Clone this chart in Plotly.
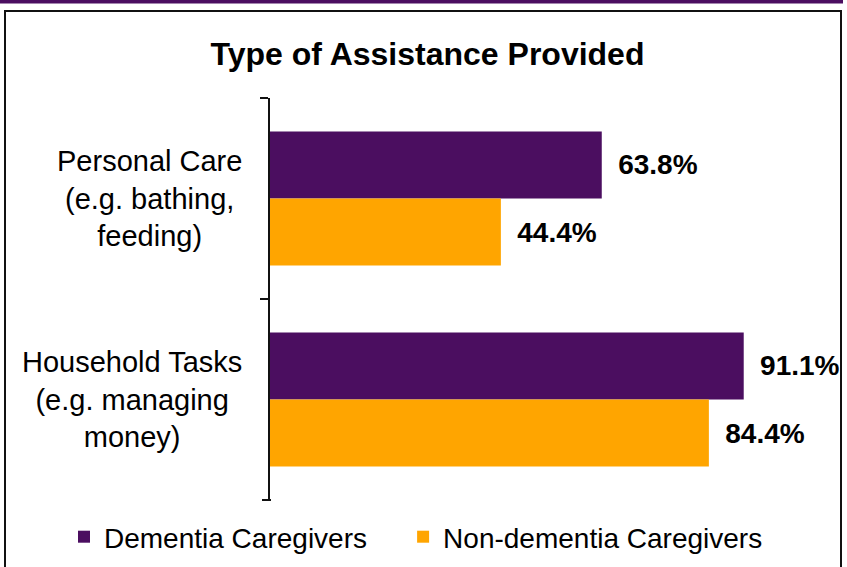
import plotly.graph_objects as go

categories = ["Personal Care<br>(e.g. bathing,<br>feeding)",
              "Household Tasks<br>(e.g. managing<br>money)"]
category_keys = ["Personal Care", "Household Tasks"]
series_names = ["Dementia Caregivers", "Non-dementia Caregivers"]
dementia = [63.8, 91.1]
non_dementia = [44.4, 84.4]
colors = ["#4B0E60", "#FFA500"]
title_text = "Type of Assistance Provided"

FONT = "Liberation Sans, Arial, sans-serif"
pad = "\u00a0\u2009"
legend_pad = ["\u00a0" * 4, ""]

fig = go.Figure()
for name, vals, col, lp in zip(series_names, [dementia, non_dementia], colors, legend_pad):
    fig.add_trace(go.Bar(
        name=name + lp, y=category_keys, x=vals, orientation="h",
        marker=dict(color=col, line=dict(width=0)),
        text=[pad + f"{v:.1f}%" for v in vals],
        textposition="outside", cliponaxis=False,
        textfont=dict(family=FONT, size=28, color="black", weight="bold"),
    ))

for key, label in zip(category_keys, categories):
    fig.add_annotation(text=label, xref="paper", x=0, xanchor="right", xshift=-26,
                       yref="y", y=key, yanchor="middle", align="center",
                       showarrow=False, font=dict(family=FONT, size=29, color="black"))

W, H = 847, 567
L, R, T, B = 270, 57, 98, 67
pw, ph = W - L - R, H - T - B

def px_x(x):
    return (x - L) / pw

def px_y(y):
    return (H - B - y) / ph

fig.add_shape(type="rect", xref="paper", yref="paper",
              x0=px_x(0), x1=px_x(843), y0=px_y(3.5), y1=px_y(-2),
              fillcolor="#4B0E60", line=dict(width=0), layer="below")
fig.add_shape(type="rect", xref="paper", yref="paper",
              x0=px_x(5), x1=px_x(841), y0=px_y(575), y1=px_y(11),
              fillcolor="rgba(0,0,0,0)", line=dict(color="#111111", width=2), layer="below")
# closing tick at the bottom category boundary
fig.add_shape(type="line", xref="paper", yref="paper",
              x0=px_x(262), x1=px_x(271), y0=0, y1=0,
              line=dict(color="#111111", width=2))

n = len(category_keys)
fig.update_layout(
    width=W, height=H,
    margin=dict(l=L, r=R, t=T, b=B, autoexpand=False),
    paper_bgcolor="white", plot_bgcolor="white",
    font=dict(family=FONT, color="black"),
    barmode="group", bargap=0.333, bargroupgap=0,
    title=dict(text=title_text, x=427.5 / W, xanchor="center", xref="container",
               y=1 - 54 / H, yanchor="middle", yref="container",
               font=dict(family=FONT, size=32, color="black", weight="bold")),
    xaxis=dict(visible=False, range=[0, 100], fixedrange=True),
    yaxis=dict(type="category", categoryorder="array", categoryarray=category_keys,
               range=[n - 0.5, -0.5], showticklabels=False, ticks="outside",
               tickson="boundaries", ticklen=8, tickwidth=2, tickcolor="#111111",
               showline=True, linecolor="#111111", linewidth=2, showgrid=False,
               zeroline=False, fixedrange=True),
    showlegend=True,
    legend=dict(orientation="h", xref="paper", x=px_x(64), xanchor="left",
                yref="paper", y=px_y(537), yanchor="middle",
                font=dict(family=FONT, size=28, color="black"),
                traceorder="normal"),
)

fig.write_html("out.html", config={"displayModeBar": False},
               post_script="document.body.style.margin='0';document.body.style.overflow='hidden';")
